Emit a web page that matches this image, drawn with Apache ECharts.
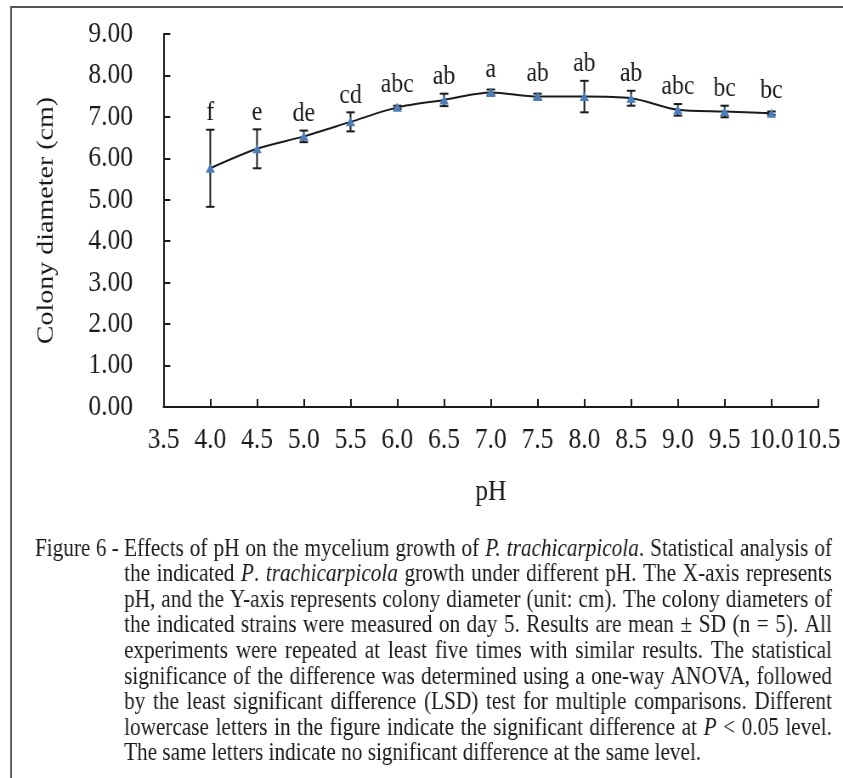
<!DOCTYPE html>
<html>
<head>
<meta charset="utf-8">
<script src="https://cdn.jsdelivr.net/npm/echarts@6/dist/echarts.min.js"></script>
<style>
html, body { margin: 0; padding: 0; background: #fff; overflow: hidden; }
/* the original figure is set in a condensed serif, so the whole chart is squeezed horizontally */
#chart { width: 992px; height: 778px; transform: scaleX(0.8498); transform-origin: 0 0; }
</style>
</head>
<body>
<div id="chart"></div>
<script>
// pH values and colony diameter (cm), mean and SD
var phValues = [4.0, 4.5, 5.0, 5.5, 6.0, 6.5, 7.0, 7.5, 8.0, 8.5, 9.0, 9.5, 10.0];
var meanDiameter = [5.76, 6.23, 6.53, 6.88, 7.23, 7.41, 7.59, 7.49, 7.49, 7.45, 7.17, 7.13, 7.09];
var sdDiameter = [0.93, 0.47, 0.14, 0.23, 0.04, 0.15, 0.07, 0.07, 0.38, 0.18, 0.14, 0.14, 0.04];
var letters = ['f', 'e', 'de', 'cd', 'abc', 'ab', 'a', 'ab', 'ab', 'ab', 'abc', 'bc', 'bc'];

// caption, _..._ marks italic
var captionLead = 'Figure 6 -';
var captionLines = [
  'Effects of pH on the mycelium growth of _P._ _trachicarpicola_. Statistical analysis of',
  'the indicated _P_. _trachicarpicola_ growth under different pH. The X-axis represents',
  'pH, and the Y-axis represents colony diameter (unit: cm). The colony diameters of',
  'the indicated strains were measured on day 5. Results are mean \u00b1 SD (n = 5). All',
  'experiments were repeated at least five times with similar results. The statistical',
  'significance of the difference was determined using a one-way ANOVA, followed',
  'by the least significant difference (LSD) test for multiple comparisons. Different',
  'lowercase letters in the figure indicate the significant difference at _P_ < 0.05 level.',
  'The same letters indicate no significant difference at the same level.'
];

var FONT = '"Liberation Serif", "Times New Roman", serif';
var INK = '#1a1a1a';

var linePoints = phValues.map(function (x, i) { return [x, meanDiameter[i]]; });
var errData = phValues.map(function (x, i) { return [x, meanDiameter[i], sdDiameter[i]]; });

// caption layout (justified by spreading the words)
var CAP_SIZE = 25, CAP_LEFT = 146, CAP_RIGHT = 979, CAP_TOP = 549, CAP_STEP = 25.6;
var mctx = document.createElement('canvas').getContext('2d');
function measure(t, italic) {
  mctx.font = (italic ? 'italic ' : 'normal ') + 'normal ' + CAP_SIZE + 'px ' + FONT;
  return mctx.measureText(t).width;
}
function capText(t, x, y, italic, align) {
  return {
    type: 'text', x: x, y: y, silent: true,
    style: {
      text: t, fill: INK, fontSize: CAP_SIZE, fontFamily: FONT,
      fontStyle: italic ? 'italic' : 'normal',
      align: align || 'left', verticalAlign: 'middle'
    }
  };
}
var graphics = [{
  type: 'rect', silent: true,
  shape: { x: 13, y: 7, width: 1500, height: 1500 },
  style: { fill: 'none', stroke: '#555', lineWidth: 2 }
}];
var spaceW = measure(' ', false);
graphics.push(capText(captionLead, CAP_LEFT - spaceW, CAP_TOP, false, 'right'));
captionLines.forEach(function (line, li) {
  var y = CAP_TOP + li * CAP_STEP;
  var words = line.split(' ').map(function (w) {
    var segs = w.split('_').map(function (t, k) { return { t: t, i: k % 2 === 1 }; })
      .filter(function (s) { return s.t.length > 0; });
    var width = 0;
    segs.forEach(function (s) { s.w = measure(s.t, s.i); width += s.w; });
    return { segs: segs, w: width };
  });
  var total = words.reduce(function (a, w) { return a + w.w; }, 0);
  var last = li === captionLines.length - 1;
  var gap = last ? spaceW : (CAP_RIGHT - CAP_LEFT - total) / (words.length - 1);
  var x = CAP_LEFT;
  words.forEach(function (w) {
    w.segs.forEach(function (s) {
      graphics.push(capText(s.t, x, y, s.i));
      x += s.w;
    });
    x += gap;
  });
});

var chart = echarts.init(document.getElementById('chart'));
var option = {
  animation: false,
  backgroundColor: '#fff',
  grid: { left: 192.4, right: 25.9, top: 34, bottom: 371 },
  xAxis: {
    type: 'value', min: 3.5, max: 10.5, interval: 0.5,
    name: 'pH', nameLocation: 'middle', nameGap: 70,
    nameTextStyle: { fontFamily: FONT, fontSize: 30, color: INK },
    axisLine: { onZero: false, lineStyle: { color: INK, width: 2 } },
    axisTick: { inside: true, length: 8, lineStyle: { color: INK, width: 2 } },
    axisLabel: {
      margin: 18, fontFamily: FONT, fontSize: 30, color: INK,
      formatter: function (v) { return v.toFixed(1); }
    },
    splitLine: { show: false }
  },
  yAxis: {
    type: 'value', min: 0, max: 9, interval: 1,
    name: 'Colony diameter (cm)', nameLocation: 'middle', nameGap: 124,
    nameTextStyle: { fontFamily: FONT, fontSize: 28, color: INK },
    axisLine: { show: true, onZero: false, lineStyle: { color: INK, width: 2 } },
    axisTick: { show: true, inside: true, length: 8, lineStyle: { color: INK, width: 2 } },
    axisLabel: {
      margin: 36, fontFamily: FONT, fontSize: 30, color: INK,
      formatter: function (v) { return v.toFixed(2); }
    },
    splitLine: { show: false }
  },
  graphic: graphics,
  series: [
    {
      type: 'custom',
      z: 2,
      data: errData,
      renderItem: function (params, api) {
        var x = api.value(0), m = api.value(1), sd = api.value(2);
        var top = api.coord([x, m + sd]);
        var bot = api.coord([x, m - sd]);
        var mid = api.coord([x, m]);
        var cap = 5;
        var ls = { stroke: INK, lineWidth: 2 };
        var labelY = Math.min(top[1], mid[1] - 6) - 3;
        return {
          type: 'group',
          children: [
            { type: 'line', shape: { x1: top[0], y1: top[1], x2: bot[0], y2: bot[1] }, style: ls },
            { type: 'line', shape: { x1: top[0] - cap, y1: top[1], x2: top[0] + cap, y2: top[1] }, style: ls },
            { type: 'line', shape: { x1: bot[0] - cap, y1: bot[1], x2: bot[0] + cap, y2: bot[1] }, style: ls },
            {
              type: 'text', x: top[0], y: labelY,
              style: {
                text: letters[params.dataIndex], fill: INK,
                fontSize: 28, fontFamily: FONT, align: 'center', verticalAlign: 'bottom'
              }
            }
          ]
        };
      }
    },
    {
      type: 'line',
      z: 3,
      data: linePoints,
      smooth: 0.3,
      symbol: 'triangle',
      symbolSize: [11, 9],
      itemStyle: { color: '#4a7ebb' },
      lineStyle: { color: INK, width: 2 }
    }
  ]
};
chart.setOption(option);
</script>
</body>
</html>
